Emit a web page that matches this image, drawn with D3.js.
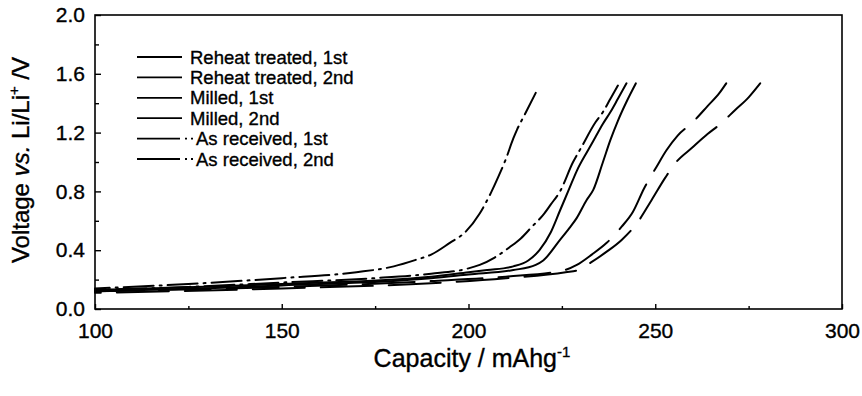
<!DOCTYPE html>
<html><head><meta charset="utf-8">
<script src="https://cdn.jsdelivr.net/npm/d3@7"></script>
<style>
body{margin:0;background:#fff}
svg text{font-family:"Liberation Sans",Arial,Helvetica,sans-serif;fill:#000;stroke:#000;stroke-width:0.35px}
</style>
</head><body>
<svg id="chart" width="862" height="396"></svg>
<script>
// ---- data ----
const legendLabels = ["Reheat treated, 1st","Reheat treated, 2nd","Milled, 1st","Milled, 2nd","As received, 1st","As received, 2nd"];
const xTicks = [100,150,200,250,300];
const yTicks = [0.0,0.4,0.8,1.2,1.6,2.0];

const capReheat1 = [100,150,190,210,226,229.4,233,237,241,245,249,252.6,255.3,260,264,267.5,271.4,275,278.1];
const voltReheat1 = [0.11,0.14,0.175,0.21,0.25,0.265,0.32,0.39,0.47,0.58,0.74,0.89,0.99,1.10,1.19,1.26,1.354,1.44,1.535];

const capReheat2 = [100,150,190,210,225,229,233,237,241,244,247,250.4,253,256,260,264,267.2,269];
const voltReheat2 = [0.12,0.15,0.19,0.22,0.26,0.30,0.37,0.45,0.56,0.66,0.82,0.97,1.08,1.18,1.27,1.38,1.47,1.535];

const capMilled1 = [100,150,190,200,212,218,220,224.5,227,229,231.6,233.4,236,238,240,242.5,244.8];
const voltMilled1 = [0.12,0.16,0.21,0.235,0.265,0.30,0.33,0.47,0.55,0.62,0.74,0.81,1.0,1.15,1.28,1.42,1.535];

const capMilled2 = [100,150,190,200,205,212,216,219,222,224.5,227,229,232,234,236,238,240,242.3];
const voltMilled2 = [0.13,0.17,0.22,0.25,0.265,0.29,0.33,0.40,0.52,0.67,0.82,0.94,1.08,1.17,1.26,1.34,1.43,1.535];

const capAsRec1 = [100,125,150,175,190,199,203,207,211,214,217,220,222,224.5,228,230,234,236,238,240];
const voltAsRec1 = [0.13,0.15,0.18,0.21,0.24,0.27,0.30,0.35,0.42,0.48,0.56,0.64,0.71,0.80,1.0,1.09,1.27,1.34,1.43,1.52];

const capAsRec2 = [100,125,150,170,180,186,190,195,199,203,206,208,210,212,213,215,218];
const voltAsRec2 = [0.14,0.17,0.21,0.25,0.29,0.335,0.37,0.45,0.52,0.65,0.79,0.90,1.02,1.16,1.22,1.32,1.47];

const seriesCap = [capReheat1,capReheat2,capMilled1,capMilled2,capAsRec1,capAsRec2];
const seriesVolt = [voltReheat1,voltReheat2,voltMilled1,voltMilled2,voltAsRec1,voltAsRec2];

// ---- styles ----
const dashes = [[52,16],[52,16],null,null,[30,6,2,6],[30,6,2,6]];
const legendDashes = [null,null,null,null,"43,5,2,4,2,60","43,5,2,4,2,60"];

const svg = d3.select("#chart");
const L = 95, R = 842, T = 15, B = 309;
const x = d3.scaleLinear().domain([100,300]).range([L,R]);
const y = d3.scaleLinear().domain([0,2]).range([B,T]);

// frame
svg.append("rect").attr("x",L).attr("y",T).attr("width",R-L).attr("height",B-T)
  .attr("fill","none").attr("stroke","#000").attr("stroke-width",1.6);

// x axis major + minor
const gx = svg.append("g").attr("transform",`translate(0,${B})`)
  .call(d3.axisBottom(x).tickValues(xTicks).tickFormat(d3.format("d")).tickSizeInner(-5).tickSizeOuter(0).tickPadding(14));
gx.select(".domain").remove();
gx.selectAll("line").attr("stroke-width",1.4);
gx.selectAll("text").attr("font-size","21px");
const gxm = svg.append("g").attr("transform",`translate(0,${B})`)
  .call(d3.axisBottom(x).tickValues([125,175,225,275]).tickFormat("").tickSizeInner(-3).tickSizeOuter(0));
gxm.select(".domain").remove();
gxm.selectAll("line").attr("stroke-width",1.4);

// y axis major + minor
const gy = svg.append("g").attr("transform",`translate(${L},0)`)
  .call(d3.axisLeft(y).tickValues(yTicks).tickFormat(d3.format(".1f")).tickSizeInner(-6).tickSizeOuter(0).tickPadding(10));
gy.select(".domain").remove();
gy.selectAll("line").attr("stroke-width",1.4);
gy.selectAll("text").attr("font-size","21px");
const gym = svg.append("g").attr("transform",`translate(${L},0)`)
  .call(d3.axisLeft(y).tickValues([0.2,0.6,1.0,1.4,1.8]).tickFormat("").tickSizeInner(-4).tickSizeOuter(0));
gym.select(".domain").remove();
gym.selectAll("line").attr("stroke-width",1.4);

// curves
const line = d3.line().x(d=>x(d[0])).y(d=>y(d[1])).curve(d3.curveMonotoneX);
seriesCap.forEach((caps,i)=>{
  const pts = caps.map((c,j)=>[c,seriesVolt[i][j]]);
  const p = svg.append("path").attr("d",line(pts)).attr("fill","none").attr("stroke","#000")
    .attr("stroke-width",2).attr("stroke-linecap","round");
  if (dashes[i]) {
    const period = d3.sum(dashes[i]);
    const len = p.node().getTotalLength();
    // align pattern so that the curve ends inside a dash
    const off = (((dashes[i][0] - 6 - len) % period) + period) % period;
    p.attr("stroke-dasharray", dashes[i].join(",")).attr("stroke-dashoffset", off);
  }
});

// legend
const legY0 = 57, legDy = 20.4;
legendLabels.forEach((lab,i)=>{
  const yy = legY0 + i*legDy;
  svg.append("line").attr("x1",137).attr("x2",i<4?182:193).attr("y1",yy).attr("y2",yy)
    .attr("stroke","#000").attr("stroke-width",1.8).attr("stroke-dasharray",legendDashes[i]);
  svg.append("text").attr("x",i<4?190:196).attr("y",yy).attr("dy","0.36em").attr("font-size","18.5px").text(lab);
});

// axis titles
const xt = svg.append("text").attr("x",472).attr("y",367).attr("text-anchor","middle").attr("font-size","25px");
xt.append("tspan").text("Capacity / mAhg");
xt.append("tspan").attr("font-size","15px").attr("dy","-10").text("-1");

const yt = svg.append("text").attr("transform","translate(29,160) rotate(-90)").attr("text-anchor","middle").attr("font-size","24px");
yt.append("tspan").text("Voltage ");
yt.append("tspan").attr("font-style","italic").text("vs.");
yt.append("tspan").text(" Li/Li");
yt.append("tspan").attr("font-size","15px").attr("dy","-10").text("+");
yt.append("tspan").attr("dy","10").text(" /V");
</script>
</body></html>
